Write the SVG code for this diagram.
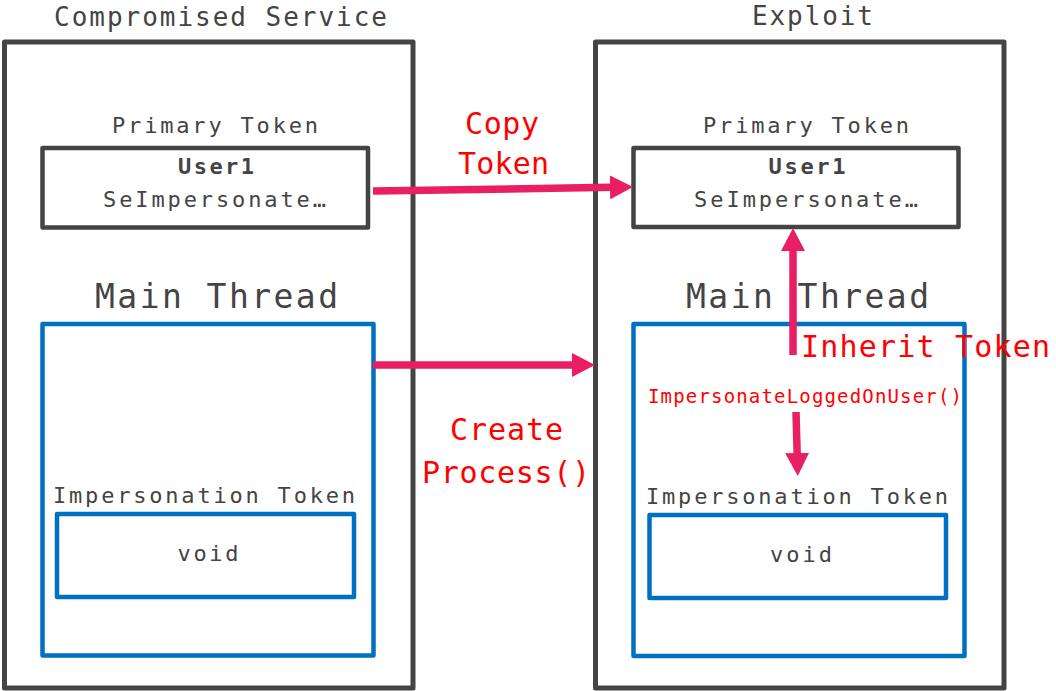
<svg xmlns="http://www.w3.org/2000/svg" width="1056" height="691" viewBox="0 0 1056 691">
  <defs>
    <style>
      .t { font-family: "DejaVu Sans Mono", "Liberation Mono", monospace; fill: #444444; }
      .lbl { font-family: "DejaVu Sans Mono", "Liberation Mono", monospace; fill: #FF0000; }
      .box { fill: #FFFFFF; stroke: #444444; stroke-linejoin: round; }
      .outer { stroke-width: 5; }
      .tok { stroke-width: 4.5; }
      .thread { fill: #FFFFFF; stroke: #0070C0; stroke-width: 4.5; stroke-linejoin: round; }
      .conn { stroke: #E91E63; stroke-width: 7.5; fill: none; marker-end: url(#head); }
    </style>
    <marker id="head" markerUnits="userSpaceOnUse" markerWidth="24" markerHeight="24" refX="2" refY="12" orient="auto">
      <path d="M0,0 L23,12 L0,24 Z" fill="#E91E63"/>
    </marker>
  </defs>

  <!-- left process: the compromised service -->
  <g id="compromised-service">
    <text class="t" x="220.5" y="26" font-size="26" text-anchor="middle" textLength="333">Compromised Service</text>
    <rect class="box outer" x="4.5" y="42" width="408.5" height="646"/>
  </g>
  <g id="service-primary-token">
    <text class="t" x="215" y="133" font-size="22" text-anchor="middle" textLength="206">Primary Token</text>
    <rect class="box tok" x="42.5" y="148" width="325.5" height="79.5"/>
    <text class="t" x="216" y="174" font-size="22" font-weight="bold" text-anchor="middle" textLength="76">User1</text>
    <text class="t" x="214.5" y="207" font-size="22" text-anchor="middle" textLength="223">SeImpersonate…</text>
  </g>
  <g id="service-main-thread">
    <text class="t" x="216.5" y="308" font-size="33" text-anchor="middle" textLength="243">Main Thread</text>
    <rect class="thread" x="42.5" y="324" width="331" height="331.5"/>
  </g>
  <g id="service-impersonation-token">
    <text class="t" x="204" y="503" font-size="22" text-anchor="middle" textLength="302">Impersonation Token</text>
    <rect class="thread" x="57" y="514" width="297" height="83"/>
    <text class="t" x="208" y="561" font-size="22" text-anchor="middle" textLength="61">void</text>
  </g>

  <!-- right process: the exploit -->
  <g id="exploit">
    <text class="t" x="812.5" y="25" font-size="26" text-anchor="middle" textLength="121">Exploit</text>
    <rect class="box outer" x="595.5" y="42" width="408.5" height="646"/>
  </g>
  <g id="exploit-primary-token">
    <text class="t" x="806" y="133" font-size="22" text-anchor="middle" textLength="206">Primary Token</text>
    <rect class="box tok" x="633.5" y="148" width="325" height="79"/>
    <text class="t" x="807" y="174" font-size="22" font-weight="bold" text-anchor="middle" textLength="77">User1</text>
    <text class="t" x="806" y="207" font-size="22" text-anchor="middle" textLength="224">SeImpersonate…</text>
  </g>
  <g id="exploit-main-thread">
    <text class="t" x="807.5" y="308" font-size="33" text-anchor="middle" textLength="243">Main Thread</text>
    <rect class="thread" x="633.5" y="324" width="331" height="332"/>
  </g>
  <g id="exploit-impersonation-token">
    <text class="t" x="797" y="504" font-size="22" text-anchor="middle" textLength="302">Impersonation Token</text>
    <rect class="thread" x="649.5" y="515" width="296.5" height="83"/>
    <text class="t" x="801" y="562" font-size="22" text-anchor="middle" textLength="62">void</text>
  </g>

  <!-- connectors -->
  <g id="connectors">
    <line class="conn" x1="373" y1="191" x2="612" y2="187.3"/>
    <line class="conn" x1="373" y1="365" x2="574" y2="365"/>
    <line class="conn" x1="793" y1="355" x2="793" y2="249"/>
    <line class="conn" x1="796" y1="412" x2="797.2" y2="455"/>
  </g>

  <!-- connector labels -->
  <g id="connector-labels">
    <text class="lbl" x="502" y="134" font-size="30" text-anchor="middle" textLength="74">Copy</text>
    <text class="lbl" x="503.5" y="174" font-size="30" text-anchor="middle" textLength="91">Token</text>
    <text class="lbl" x="506.5" y="440" font-size="30" text-anchor="middle" textLength="113">Create</text>
    <text class="lbl" x="506" y="483" font-size="30" text-anchor="middle" textLength="168">Process()</text>
    <text class="lbl" x="801" y="357" font-size="30" textLength="249">Inherit Token</text>
    <text class="lbl" x="648" y="403" font-size="19" textLength="314">ImpersonateLoggedOnUser()</text>
  </g>
</svg>
